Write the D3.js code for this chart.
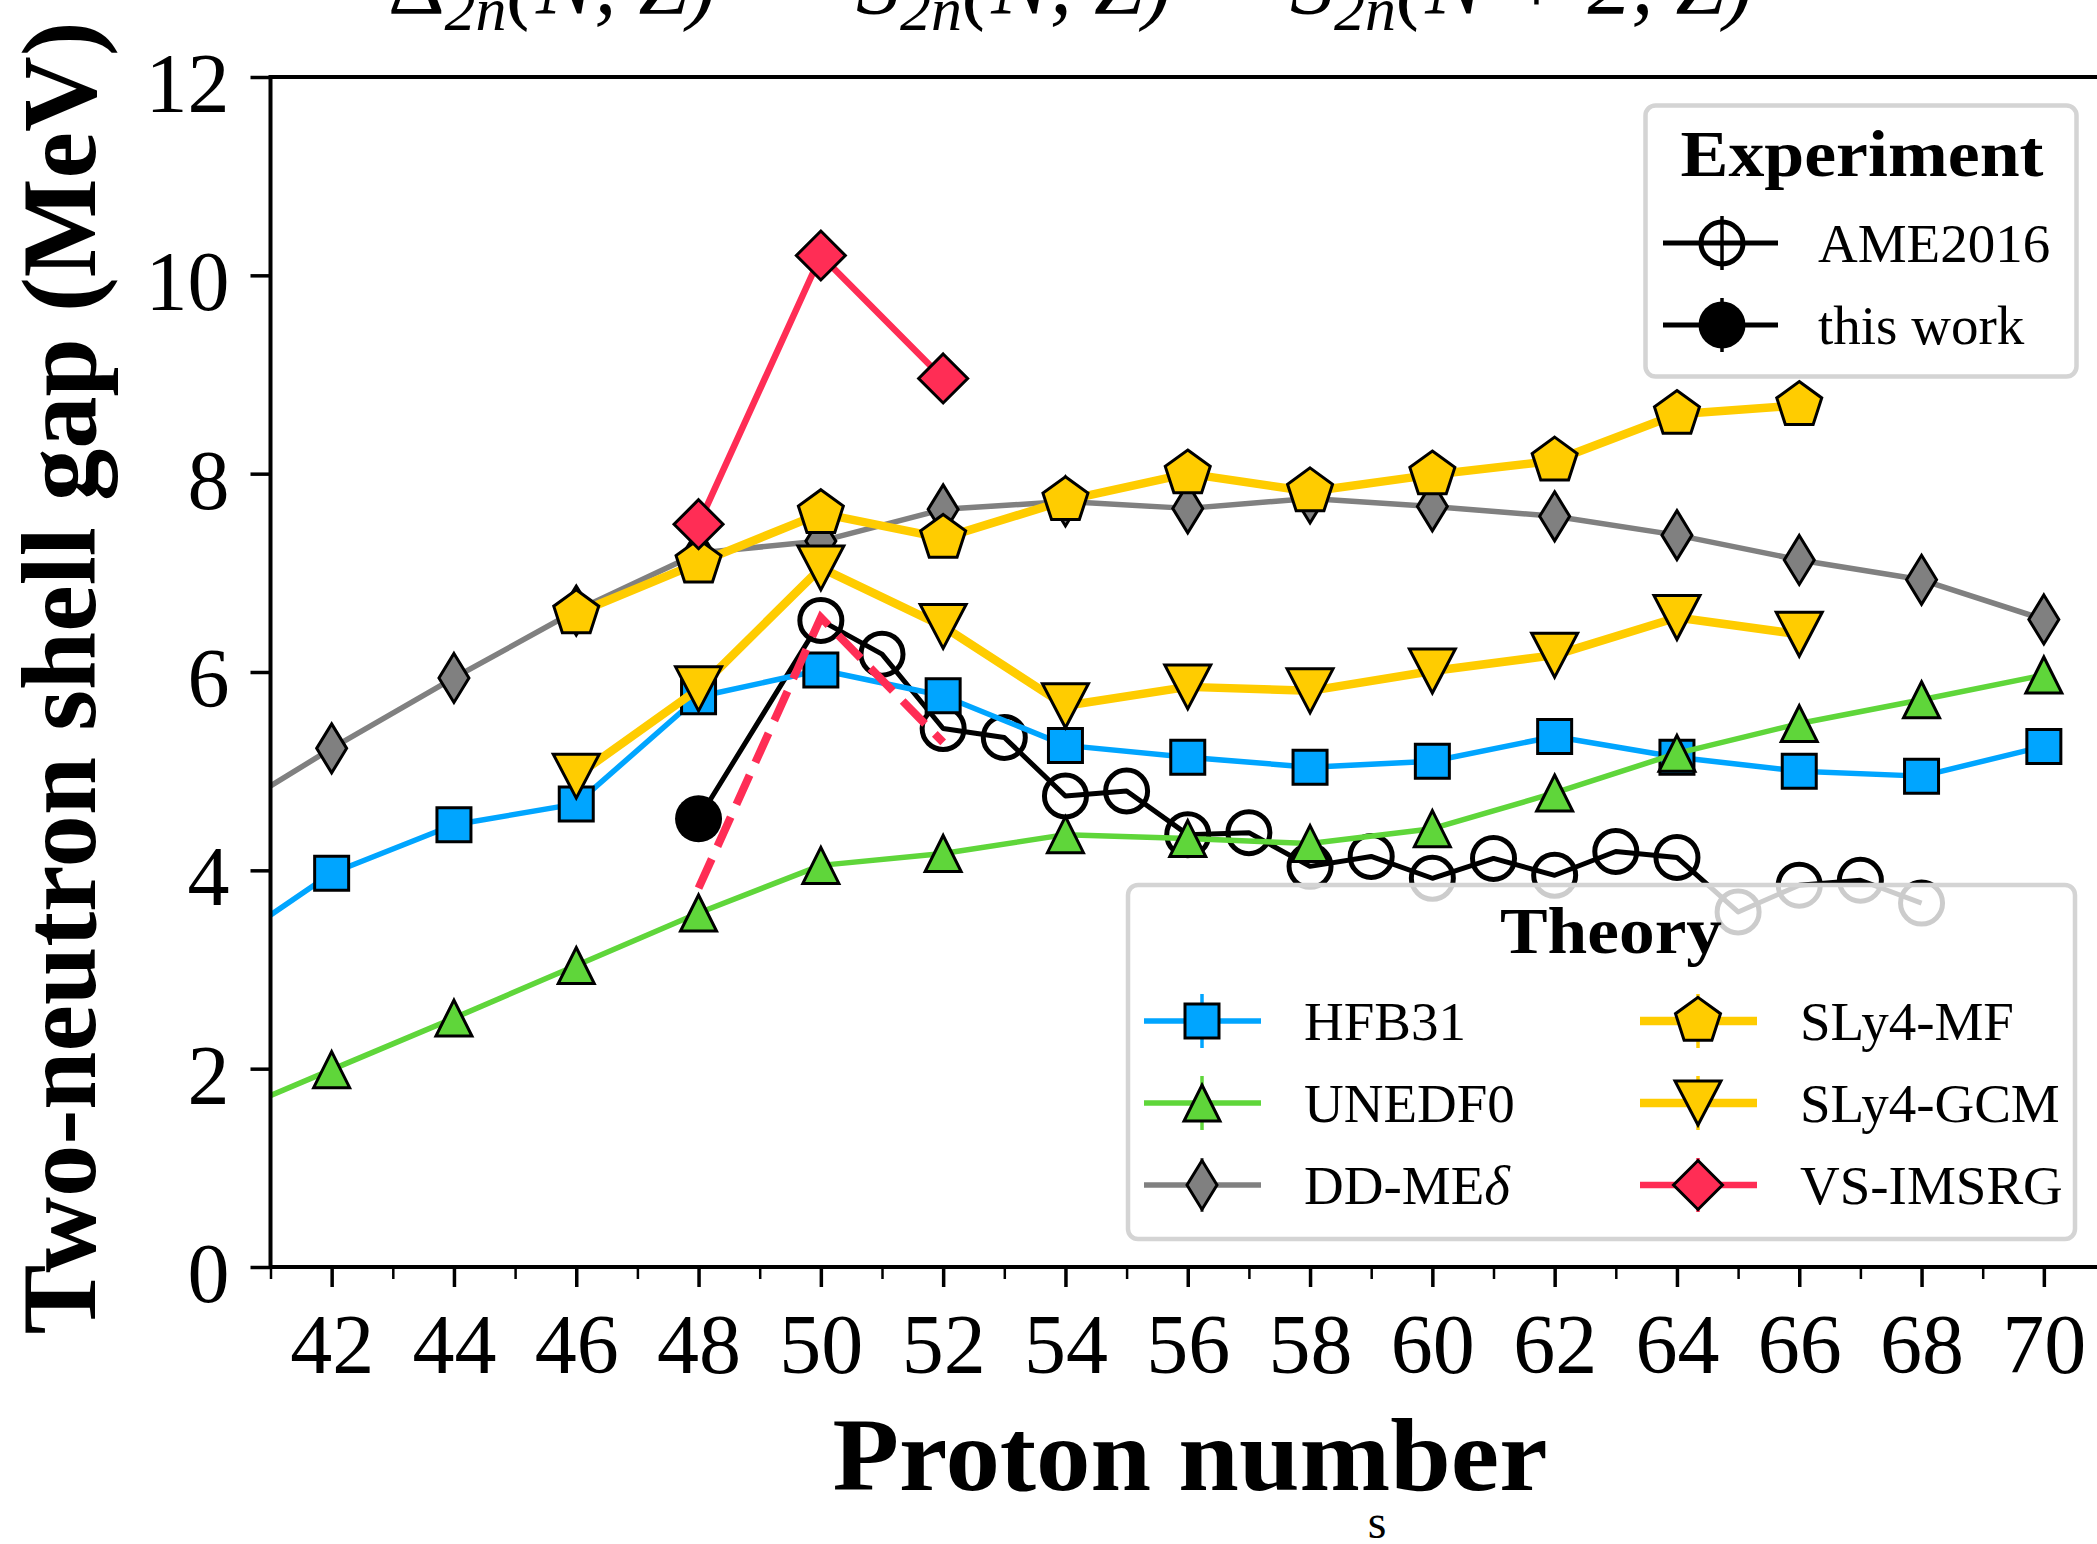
<!DOCTYPE html>
<html>
<head>
<meta charset="utf-8">
<script src="https://cdn.jsdelivr.net/npm/d3@7"></script>
<style>
  body { margin: 0; background: #fff; }
  svg { display: block; }
</style>
</head>
<body>
<div id="chart"></div>
<script>
// two-neutron shell gaps (MeV) vs proton number
const theoryZ = [40, 42, 44, 46, 48, 50, 52, 54, 56, 58, 60, 62, 64, 66, 68, 70];
const hfb31 = [3.13, 3.97, 4.46, 4.67, 5.75, 6.02, 5.76, 5.26, 5.14, 5.04, 5.10, 5.35, 5.14, 5.00, 4.95, 5.25];
const unedf0 = [1.47, 1.99, 2.51, 3.04, 3.57, 4.05, 4.17, 4.36, 4.32, 4.27, 4.42, 4.78, 5.18, 5.48, 5.72, 5.97];
const ddmeDelta = [4.47, 5.23, 5.94, 6.62, 7.20, 7.32, 7.64, 7.72, 7.65, 7.75, 7.67, 7.57, 7.38, 7.13, 6.93, 6.53];
const sly4Z = [46, 48, 50, 52, 54, 56, 58, 60, 62, 64, 66];
const sly4Mf = [6.59, 7.10, 7.60, 7.35, 7.73, 8.00, 7.82, 7.99, 8.13, 8.60, 8.69];
const sly4Gcm = [4.95, 5.83, 7.05, 6.46, 5.66, 5.85, 5.81, 6.01, 6.17, 6.55, 6.38];
const imsrgZ = [48, 50, 52];
const vsImsrg = [7.49, 10.20, 8.96];
const vsImsrgDashed = [3.82, 6.55, 5.29];
const ameZ = [50, 51, 52, 53, 54, 55, 56, 57, 58, 59, 60, 61, 62, 63, 64, 65, 66, 67, 68];
const ame2016 = [6.52, 6.18, 5.43, 5.34, 4.75, 4.80, 4.36, 4.38, 4.04, 4.14, 3.92, 4.12, 3.95, 4.19, 4.13, 3.58, 3.85, 3.90, 3.67];
const thisWorkZ = [48];
const thisWork = [4.52];
const xTicks = [42, 44, 46, 48, 50, 52, 54, 56, 58, 60, 62, 64, 66, 68, 70];
const xMinorTicks = [41, 43, 45, 47, 49, 51, 53, 55, 57, 59, 61, 63, 65, 67, 69, 71];
const yTicks = [0, 2, 4, 6, 8, 10, 12];

const W = 2097, H = 1544;
const serif = "'Liberation Serif', 'Times New Roman', serif";

const x = d3.scaleLinear().domain([41, 71]).range([270.5, 2105]);
const y = d3.scaleLinear().domain([0, 12]).range([1267, 77]);

const svg = d3.select("#chart").append("svg")
    .attr("width", W)
    .attr("height", H)
    .attr("viewBox", `0 0 ${W} ${H}`)
    .style("font-family", serif);

svg.append("rect").attr("width", W).attr("height", H).attr("fill", "#fff");

svg.append("clipPath").attr("id", "plot-clip")
    .append("rect")
    .attr("x", x(41)).attr("y", y(12))
    .attr("width", x(71) - x(41)).attr("height", y(0) - y(12));

// marker outlines, centred on 0,0
const markerPath = (kind, w, h) => {
    if (kind === "square") return `M${-w / 2},${-h / 2}h${w}v${h}h${-w}Z`;
    if (kind === "up") return `M0,${-h / 2}L${w / 2},${h / 2}L${-w / 2},${h / 2}Z`;
    if (kind === "down") return `M0,${h / 2}L${w / 2},${-h / 2}L${-w / 2},${-h / 2}Z`;
    if (kind === "diamond") return `M0,${-h / 2}L${w / 2},0L0,${h / 2}L${-w / 2},0Z`;
    if (kind === "pentagon") {
        const r = w / (2 * Math.sin(Math.PI * 0.4));
        const pts = d3.range(5).map(k => {
            const a = -Math.PI / 2 + k * 2 * Math.PI / 5;
            return [r * Math.cos(a), r * Math.sin(a)];
        });
        return "M" + pts.join("L") + "Z";
    }
    return d3.symbol(d3.symbolCircle, Math.PI * w * w / 4)();
};

const theory = [
    { name: "HFB31", z: theoryZ, v: hfb31, color: "#00a5ff", lw: 5.5, kind: "square", w: 34, h: 34 },
    { name: "UNEDF0", z: theoryZ, v: unedf0, color: "#5fd63a", lw: 5.5, kind: "up", w: 36, h: 36 },
    { name: "DD-ME", greek: "δ", z: theoryZ, v: ddmeDelta, color: "#808080", lw: 5.5, kind: "diamond", w: 30, h: 49 },
    { name: "SLy4-MF", z: sly4Z, v: sly4Mf, color: "#ffcc00", lw: 8.5, kind: "pentagon", w: 45, h: 43 },
    { name: "SLy4-GCM", z: sly4Z, v: sly4Gcm, color: "#ffcc00", lw: 8.5, kind: "down", w: 46, h: 44 },
    { name: "VS-IMSRG", z: imsrgZ, v: vsImsrg, color: "#ff2d55", lw: 6.5, kind: "diamond", w: 49, h: 49 }
];

const line = d3.line().x(d => x(d[0])).y(d => y(d[1]));
const plot = svg.append("g").attr("clip-path", "url(#plot-clip)");

// experiment: this work joined to AME2016
const expPts = thisWorkZ.map((z, i) => [z, thisWork[i]])
    .concat(ameZ.map((z, i) => [z, ame2016[i]]));
plot.append("path")
    .attr("d", line(expPts))
    .attr("fill", "none").attr("stroke", "#000").attr("stroke-width", 5)
    .attr("stroke-linejoin", "round");
plot.selectAll(".ame").data(ameZ.map((z, i) => [z, ame2016[i]])).enter()
    .append("circle").attr("class", "ame")
    .attr("cx", d => x(d[0])).attr("cy", d => y(d[1])).attr("r", 21)
    .attr("fill", "none").attr("stroke", "#000").attr("stroke-width", 5);
plot.selectAll(".tw").data(thisWorkZ.map((z, i) => [z, thisWork[i]])).enter()
    .append("circle").attr("class", "tw")
    .attr("cx", d => x(d[0])).attr("cy", d => y(d[1])).attr("r", 23.5)
    .attr("fill", "#000");

theory.forEach(s => {
    const pts = s.z.map((z, i) => [z, s.v[i]]);
    plot.append("path")
        .attr("d", line(pts))
        .attr("fill", "none").attr("stroke", s.color).attr("stroke-width", s.lw)
        .attr("stroke-linejoin", "round");
    plot.selectAll(null).data(pts).enter()
        .append("path")
        .attr("d", markerPath(s.kind, s.w, s.h))
        .attr("transform", d => `translate(${x(d[0])},${y(d[1])})`)
        .attr("fill", s.color).attr("stroke", "#000").attr("stroke-width", 3)
        .attr("stroke-linejoin", "miter");
});

// dashed VS-IMSRG curve (no markers)
plot.append("path")
    .attr("d", line(imsrgZ.map((z, i) => [z, vsImsrgDashed[i]])))
    .attr("fill", "none").attr("stroke", "#ff2d55").attr("stroke-width", 8)
    .attr("stroke-dasharray", "32,14");

// axes
const styleAxis = (g, fs) => {
    g.select(".domain").remove();
    g.selectAll(".tick line").attr("stroke", "#000").attr("stroke-width", 3.5);
    g.selectAll(".tick text").attr("font-family", serif).attr("font-size", fs).attr("fill", "#000");
};

svg.append("g")
    .attr("transform", `translate(0,${y(0)})`)
    .call(d3.axisBottom(x).tickValues(xMinorTicks).tickSize(12).tickSizeOuter(0).tickFormat(""))
    .call(g => { g.select(".domain").remove(); g.selectAll(".tick line").attr("stroke-width", 2.5); });

svg.append("g")
    .attr("transform", `translate(0,${y(0)})`)
    .call(d3.axisBottom(x).tickValues(xTicks).tickSize(20).tickSizeOuter(0).tickPadding(26).tickFormat(d3.format("d")))
    .call(g => styleAxis(g, 84));

svg.append("g")
    .attr("transform", `translate(${x(41)},0)`)
    .call(d3.axisLeft(y).tickValues(yTicks).tickSize(20).tickSizeOuter(0).tickPadding(21).tickFormat(d3.format("d")))
    .call(g => styleAxis(g, 84))
    .call(g => g.selectAll(".tick text").attr("dy", "0.41em"));

// spines
svg.append("path")
    .attr("d", `M${x(71)},${y(12)}H${x(41)}V${y(0)}H${x(71)}`)
    .attr("fill", "none").attr("stroke", "#000").attr("stroke-width", 4);

// axis titles
svg.append("text")
    .attr("x", 1190).attr("y", 1490)
    .attr("text-anchor", "middle")
    .attr("font-size", 103).attr("font-weight", "bold")
    .attr("textLength", 715).attr("lengthAdjust", "spacingAndGlyphs")
    .text("Proton number");

svg.append("text")
    .attr("transform", "translate(95,678) rotate(-90)")
    .attr("text-anchor", "middle")
    .attr("font-size", 106).attr("font-weight", "bold")
    .attr("textLength", 1313).attr("lengthAdjust", "spacingAndGlyphs")
    .text("Two-neutron shell gap (MeV)");

svg.append("text")
    .attr("x", 1377).attr("y", 1538)
    .attr("text-anchor", "middle").attr("font-size", 48)
    .text("s");

// cut-off formula at the top
const formula = [
    { x: 388, head: "Δ", headItalic: false, tail: "(N, Z)" },
    { x: 790, head: "=", headItalic: false, tail: "", plain: true },
    { x: 856, head: "S", headItalic: true, tail: "(N, Z)" },
    { x: 1222, head: "−", headItalic: false, tail: "", plain: true },
    { x: 1290, head: "S", headItalic: true, tail: "(N + 2, Z)" }
];
formula.forEach(f => {
    const t = svg.append("text").attr("x", f.x).attr("y", 13).attr("font-size", 88);
    t.append("tspan").attr("font-style", f.headItalic ? "italic" : "normal").text(f.head);
    if (f.plain) return;
    t.append("tspan").attr("dy", 17).attr("font-size", 62).attr("font-style", "italic").text("2n");
    t.append("tspan").attr("dy", -17).attr("font-size", 88).attr("font-style", "italic").text(f.tail);
});

// legends
const legendBox = (x0, y0, w, h) => svg.append("rect")
    .attr("x", x0).attr("y", y0).attr("width", w).attr("height", h)
    .attr("rx", 10)
    .attr("fill", "#fff").attr("fill-opacity", 0.8)
    .attr("stroke", "#d4d4d4").attr("stroke-width", 4.5);

legendBox(1645.5, 105.5, 431, 271);
svg.append("text")
    .attr("x", 1862).attr("y", 176).attr("text-anchor", "middle")
    .attr("font-size", 65).attr("font-weight", "bold")
    .attr("textLength", 363).attr("lengthAdjust", "spacingAndGlyphs")
    .text("Experiment");

const expLegend = [
    { label: "AME2016", cy: 243, filled: false },
    { label: "this work", cy: 325, filled: true }
];
expLegend.forEach(e => {
    const g = svg.append("g");
    g.append("line").attr("x1", 1663).attr("x2", 1778).attr("y1", e.cy).attr("y2", e.cy)
        .attr("stroke", "#000").attr("stroke-width", 5);
    g.append("line").attr("x1", 1722).attr("x2", 1722).attr("y1", e.cy - 27).attr("y2", e.cy + 27)
        .attr("stroke", "#000").attr("stroke-width", 3.5);
    g.append("circle").attr("cx", 1722).attr("cy", e.cy).attr("r", e.filled ? 23.5 : 21)
        .attr("fill", e.filled ? "#000" : "none").attr("stroke", "#000").attr("stroke-width", e.filled ? 0 : 5);
    g.append("text").attr("x", 1818).attr("y", e.cy + 19).attr("font-size", 55).text(e.label);
});

legendBox(1128, 885, 947, 354);
svg.append("text")
    .attr("x", 1611).attr("y", 953).attr("text-anchor", "middle")
    .attr("font-size", 65).attr("font-weight", "bold")
    .attr("textLength", 222).attr("lengthAdjust", "spacingAndGlyphs")
    .text("Theory");

const rowY = [1021, 1103, 1185];
const colX = [1202, 1698];
theory.forEach((s, i) => {
    const cx = colX[Math.floor(i / 3)], cy = rowY[i % 3];
    const g = svg.append("g");
    g.append("line").attr("x1", cx - 58).attr("x2", cx + 59).attr("y1", cy).attr("y2", cy)
        .attr("stroke", s.color).attr("stroke-width", s.lw);
    g.append("line").attr("x1", cx).attr("x2", cx).attr("y1", cy - 27).attr("y2", cy + 27)
        .attr("stroke", s.color).attr("stroke-width", 3.5);
    g.append("path").attr("d", markerPath(s.kind, s.w, s.h))
        .attr("transform", `translate(${cx},${cy})`)
        .attr("fill", s.color).attr("stroke", "#000").attr("stroke-width", 3);
    const t = g.append("text").attr("x", cx + 102).attr("y", cy + 19).attr("font-size", 55).text(s.name);
    if (s.greek) t.append("tspan").attr("font-style", "italic").text(s.greek);
});
</script>
</body>
</html>
